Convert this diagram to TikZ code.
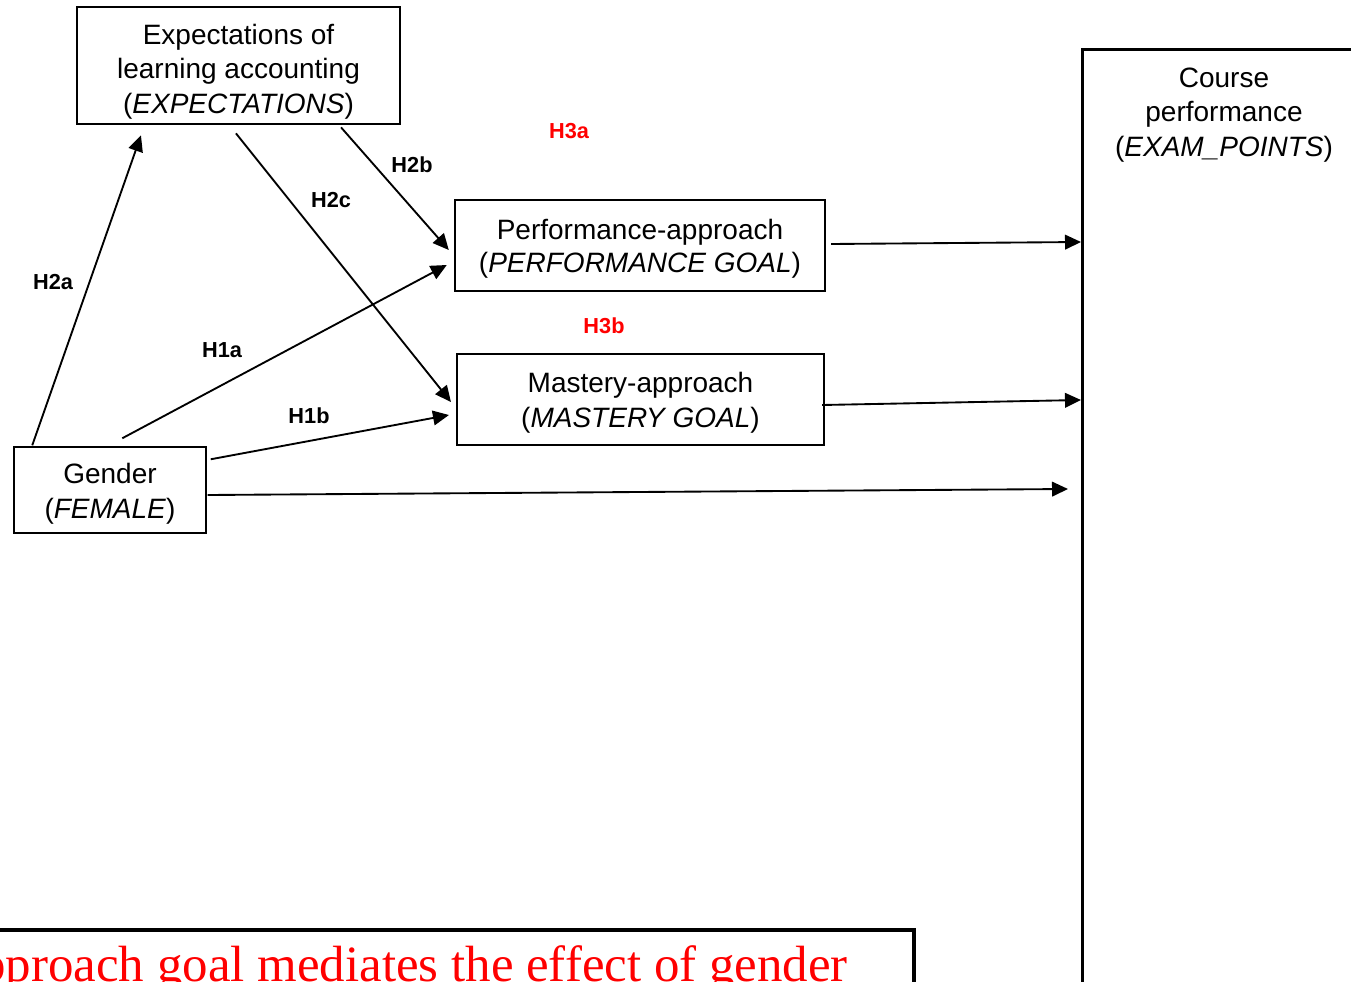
\documentclass[tikz,border=0pt]{standalone}
\usepackage{fontspec}
\setmainfont{Liberation Sans}
\newfontfamily\claimfont{Liberation Serif}
\usetikzlibrary{arrows.meta,calc}
\definecolor{hypred}{RGB}{255,0,0}
\begin{document}
\begin{tikzpicture}[x=0.75pt,y=-0.75pt,
  varbox/.style={draw, line width=1.8pt, inner sep=0pt},
  vartext/.style={align=center, inner sep=0pt,
    font=\fontsize{21}{25.9}\selectfont},
  hyp/.style={font=\fontsize{16.3}{19}\selectfont\bfseries, inner sep=0pt},
  hypr/.style={hyp, text=hypred},
  path/.style={line width=1.4pt, -{Triangle[length=12pt,width=11pt]}}]
\useasboundingbox (0,0) rectangle (1351,981);
\clip (0,0) rectangle (1351,981);

% variable boxes
\node (exp) [varbox, minimum width=242pt, minimum height=88pt] at (238.5,65.5) {};
\node (perf) [varbox, minimum width=277.5pt, minimum height=68pt] at (640,245.5) {};
\node (mast) [varbox, minimum width=275pt, minimum height=68pt] at (640.5,399.5) {};
\node (gen) [varbox, line width=1.1pt, minimum width=144pt, minimum height=64.5pt] at (110,490) {};
\node (course) [varbox, line width=1.9pt, anchor=north west,
  minimum width=300pt, minimum height=800pt] at (1081,48) {};

% variable names
\node (exptxt) [vartext] at (238.5,71.5)
  {Expectations of\\learning accounting\\(\textit{EXPECTATIONS})};
\node (perftxt) [vartext, font=\fontsize{21}{24.8}\selectfont] at (640,248.5)
  {Performance-approach\\(\textit{PERFORMANCE GOAL})};
\node (masttxt) [vartext] at (640.5,403)
  {Mastery-approach\\(\textit{MASTERY GOAL})};
\node (gentxt) [vartext] at (110,493.5)
  {Gender\\(\textit{FEMALE})};
\node (coursetxt) [vartext] at (1224,115)
  {Course\\performance\\(\textit{EXAM\_POINTS})};

% hypothesis paths
\draw[path] ($(gen.north west)+(19,-1)$) -- ($(exp.south west)+(65,10)$);
\draw[path] ($(exp.south west)+(160,8)$) -- ($(mast.west)+(-5,2.5)$);
\draw[path] ($(exp.south east)+(-60,2)$) -- ($(perf.west)+(-5,4.5)$);
\draw[path] ($(gen.north west)+(109,-8)$) -- ($(perf.west)+(-7,19.5)$);
\draw[path] ($(gen.north east)+(4,13)$) -- ($(mast.west)+(-7,15.5)$);
\draw[path] ($(perf.east)+(5,-1.5)$) -- ($(course.north west)+(0,194)$);
\draw[path] ($(mast.east)+(-3,5.5)$) -- ($(course.north west)+(0,352)$);
\draw[path] ($(gen.east)+(1,5)$) -- ($(course.north west)+(-13,441)$);

% hypothesis labels
\node (h2a) [hyp] at (53,282) {H2a};
\node (h2c) [hyp] at (331,200.5) {H2c};
\node (h2b) [hyp] at (412,164.5) {H2b};
\node (h1a) [hyp] at (222,350) {H1a};
\node (h1b) [hyp] at (309,415.5) {H1b};
\node (h3a) [hypr] at (569,131.5) {H3a};
\node (h3b) [hypr] at (604,326) {H3b};

% mediation statement
\node (claim) [draw, line width=3pt, anchor=north east, inner sep=0pt,
  minimum width=750pt, minimum height=100pt] at (916,928) {};
\node (claimtxt) [anchor=base east, inner sep=0pt, text=hypred,
  font=\claimfont\fontsize{38.2}{44}\selectfont] at (848,981)
  {pproach goal mediates the effect of gender};
\end{tikzpicture}
\end{document}
